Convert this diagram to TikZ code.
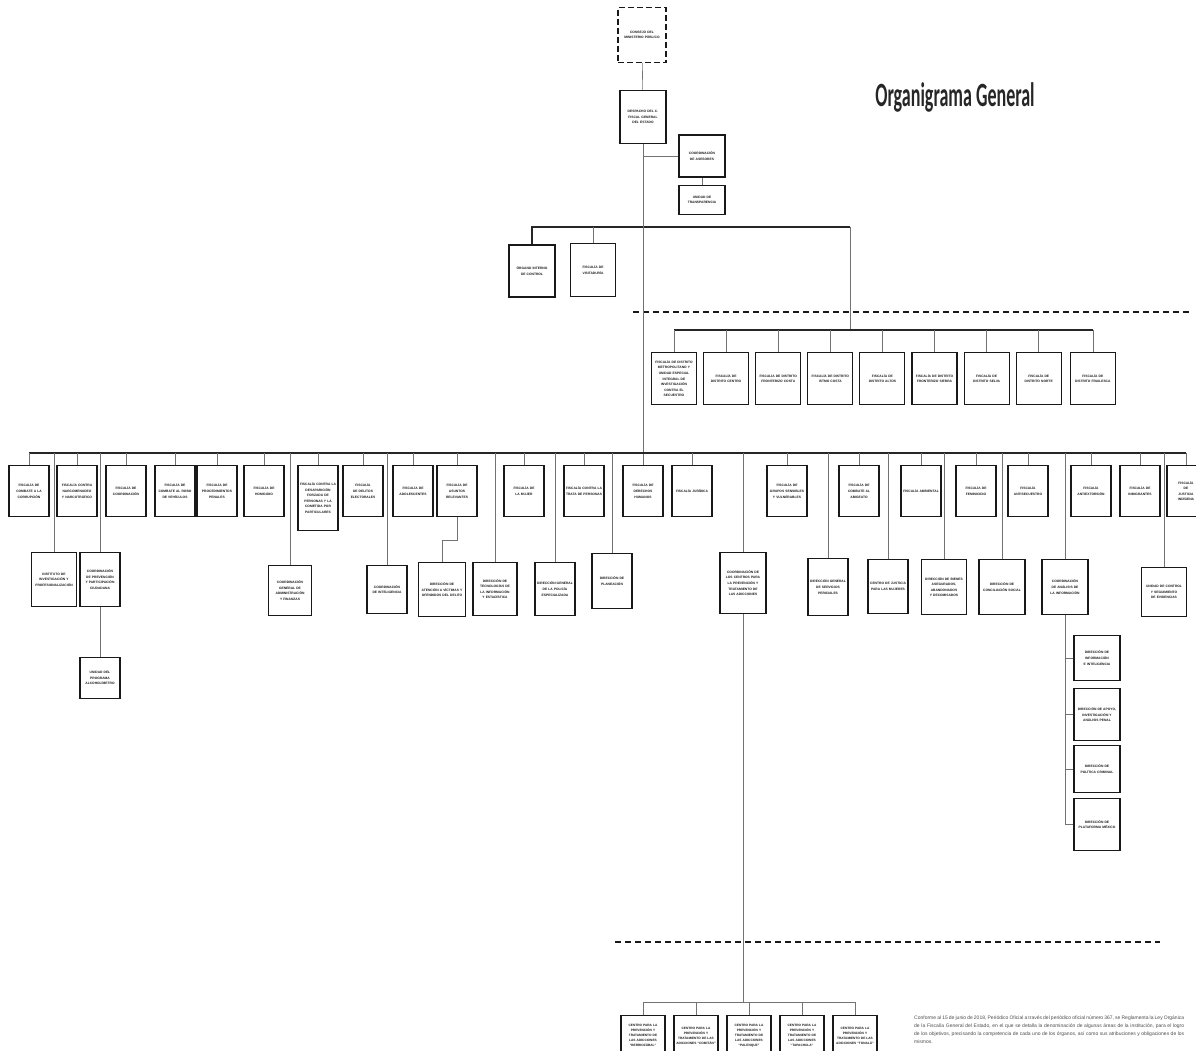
\documentclass[tikz,border=0pt]{standalone}
\usepackage{fontspec}
\setmainfont{Liberation Sans}
\newfontfamily\titlefont{Carlito}
\usepackage{graphicx}
\usetikzlibrary{positioning}
\newcommand\unitfont{\bfseries\fontsize{3.3}{5.6}\selectfont\hyphenpenalty=10000\exhyphenpenalty=10000}
\tikzset{
  unit/.style={draw=black!90,line width=1.1pt,fill=white,minimum width=40pt,
    minimum height=51pt,text width=36pt,align=center,inner sep=1pt,
    font=\unitfont,text=black!90},
  conn/.style={draw=black!55,line width=0.6pt},
  bus/.style={draw=black!85,line width=1.4pt},
}

\begin{document}
\begin{tikzpicture}[x=1pt,y=-1pt,
      consejo/.style={dash pattern=on 6pt off 3pt,line width=1.4pt,minimum width=48pt,
        minimum height=55pt,text width=40pt},
      dist/.style={minimum width=45pt,minimum height=52pt,text width=41pt},
      centro/.style={anchor=north,minimum width=44pt,minimum height=40pt,text width=40pt,
        font=\unitfont\fontsize{3.2}{5}\selectfont},
      cut/.style={draw=black!90,line width=1.1pt,dash pattern=on 6pt off 4pt},
      title/.style={font=\titlefont\bfseries\fontsize{34}{34}\selectfont,text=black!85},
      note/.style={text width=270pt,align=justify,inner sep=0pt,
        font=\fontsize{5}{8}\selectfont,text=black!70}]
      \useasboundingbox (0,0) rectangle (1196,1050);

      \node[title] (ttl) at (955,97) {\scalebox{0.53}[1]{Organigrama General}};

      % despacho
      \node[unit,consejo] (cmp) at (642,35) {CONSEJO DEL MINISTERIO PÚBLICO};
      \node[unit,minimum width=46pt,minimum height=53pt,text width=42pt] (desp) at (643,117)
        {DESPACHO DEL C. FISCAL GENERAL DEL ESTADO};
      \node[unit,minimum width=46pt,minimum height=42pt,text width=42pt] (ases) at (702,156)
        {COORDINACIÓN DE ASESORES};
      \node[unit,minimum width=46pt,minimum height=29pt,text width=42pt] (trans) at (702,200)
        {UNIDAD DE TRANSPARENCIA};
      \node[unit,minimum width=46pt,minimum height=52pt,text width=42pt] (oic) at (532,271)
        {ÓRGANO INTERNO DE CONTROL};
      \node[unit,minimum width=45pt,minimum height=53pt,text width=41pt] (visit) at (593,270)
        {FISCALÍA DE VISITADURÍA};

      \coordinate (topR) at (850,227);
      \coordinate (dbus) at (850,330);
      \coordinate (mbus) at (643,453);

      \draw[conn] (cmp) -- (desp);
      \draw[conn] (ases.west) -- (ases.west -| desp.south);
      \draw[conn] (ases) -- (trans);
      \draw[bus] (oic.north) |- (topR);
      \draw[conn] (visit.north) -- (visit.north |- topR);
      \draw[conn] (topR) -- (dbus);
      \draw[cut] (633,312) -- (1190,312);

      % fiscalias de distrito
      \node[unit,dist,anchor=north] (d1) at (674,352)
        {FISCALÍA DE DISTRITO METROPOLITANO Y UNIDAD ESPECIAL INTEGRAL DE INVESTIGACIÓN CONTRA EL SECUESTRO};
      \node[unit,dist,right=6pt of d1] (d2) {FISCALÍA DE DISTRITO CENTRO};
      \node[unit,dist,right=6pt of d2] (d3) {FISCALÍA DE DISTRITO FRONTERIZO COSTA};
      \node[unit,dist,right=6pt of d3] (d4) {FISCALÍA DE DISTRITO ISTMO COSTA};
      \node[unit,dist,right=6pt of d4] (d5) {FISCALÍA DE DISTRITO ALTOS};
      \node[unit,dist,right=6pt of d5] (d6) {FISCALÍA DE DISTRITO FRONTERIZO SIERRA};
      \node[unit,dist,right=6pt of d6] (d7) {FISCALÍA DE DISTRITO SELVA};
      \node[unit,dist,right=6pt of d7] (d8) {FISCALÍA DE DISTRITO NORTE};
      \node[unit,dist,right=8pt of d8] (d9) {FISCALÍA DE DISTRITO FRAILESCA};

      \draw[bus] (d1.north |- dbus) -- (d9.north |- dbus);
      \draw[conn] (d1.north) -- (d1.north |- dbus) (d2.north) -- (d2.north |- dbus)
        (d3.north) -- (d3.north |- dbus) (d4.north) -- (d4.north |- dbus);
      \draw[conn] (d5.north) -- (d5.north |- dbus) (d6.north) -- (d6.north |- dbus)
        (d7.north) -- (d7.north |- dbus) (d8.north) -- (d8.north |- dbus)
        (d9.north) -- (d9.north |- dbus);

      % fiscalias especializadas
      \node[unit,anchor=north] (f1) at (29,465) {FISCALÍA DE COMBATE A LA CORRUPCIÓN};
      \node[unit,anchor=north] (f2) at (77,465) {FISCALÍA CONTRA NARCOMENUDEO Y NARCOTRÁFICO};
      \node[unit,anchor=north] (f3) at (126,465) {FISCALÍA DE COORDINACIÓN};
      \node[unit,anchor=north] (f4) at (175,465) {FISCALÍA DE COMBATE AL ROBO DE VEHÍCULOS};
      \node[unit,anchor=north] (f5) at (217,465) {FISCALÍA DE PROCEDIMIENTOS PENALES};
      \node[unit,anchor=north] (f6) at (264,465) {FISCALÍA DE HOMICIDIO};
      \node[unit,anchor=north,minimum height=65pt] (f7) at (318,465)
        {FISCALÍA CONTRA LA DESAPARICIÓN FORZADA DE PERSONAS Y LA COMETIDA POR PARTICULARES};
      \node[unit,anchor=north] (f8) at (363,465) {FISCALÍA DE DELITOS ELECTORALES};
      \node[unit,anchor=north] (f9) at (413,465) {FISCALÍA DE ADOLESCENTES};
      \node[unit,anchor=north] (f10) at (457,465) {FISCALÍA DE ASUNTOS RELEVANTES};
      \node[unit,anchor=north] (f11) at (524,465) {FISCALÍA DE LA MUJER};
      \node[unit,anchor=north] (f12) at (584,465) {FISCALÍA CONTRA LA TRATA DE PERSONAS};
      \node[unit,anchor=north] (f13) at (643,465) {FISCALÍA DE DERECHOS HUMANOS};
      \node[unit,anchor=north] (f14) at (692,465) {FISCALÍA JURÍDICA};
      \node[unit,anchor=north] (f15) at (787,465) {FISCALÍA DE GRUPOS SENSIBLES Y VULNERABLES};
      \node[unit,anchor=north] (f16) at (859,465) {FISCALÍA DE COMBATE AL ABIGEATO};
      \node[unit,anchor=north] (f17) at (921,465) {FISCALÍA AMBIENTAL};
      \node[unit,anchor=north] (f18) at (976,465) {FISCALÍA DE FEMINICIDIO};
      \node[unit,anchor=north] (f19) at (1028,465) {FISCALÍA ANTISECUESTRO};
      \node[unit,anchor=north] (f20) at (1091,465) {FISCALÍA ANTIEXTORSIÓN};
      \node[unit,anchor=north] (f21) at (1140,465) {FISCALÍA DE INMIGRANTES};
      \node[unit,anchor=north,minimum width=38pt,text width=19pt] (f22) at (1186,465)
        {FISCALÍA DE JUSTICIA INDÍGENA};

      \draw[conn] (desp.south) -- (f13.north);
      \draw[bus] (f1.north |- mbus) -- (f22.north |- mbus);
      \draw[conn] (f1.north) -- (f1.north |- mbus) (f2.north) -- (f2.north |- mbus)
        (f3.north) -- (f3.north |- mbus) (f4.north) -- (f4.north |- mbus)
        (f5.north) -- (f5.north |- mbus) (f6.north) -- (f6.north |- mbus);
      \draw[conn] (f7.north) -- (f7.north |- mbus) (f8.north) -- (f8.north |- mbus)
        (f9.north) -- (f9.north |- mbus) (f10.north) -- (f10.north |- mbus)
        (f11.north) -- (f11.north |- mbus) (f12.north) -- (f12.north |- mbus);
      \draw[conn] (f14.north) -- (f14.north |- mbus) (f15.north) -- (f15.north |- mbus)
        (f16.north) -- (f16.north |- mbus) (f17.north) -- (f17.north |- mbus)
        (f18.north) -- (f18.north |- mbus) (f19.north) -- (f19.north |- mbus);
      \draw[conn] (f20.north) -- (f20.north |- mbus) (f21.north) -- (f21.north |- mbus)
        (f22.north) -- (f22.north |- mbus);

      % areas de apoyo
      \node[unit,anchor=north,minimum width=45pt,minimum height=54pt,text width=41pt] (s1) at (54,552)
        {INSTITUTO DE INVESTIGACIÓN Y PROFESIONALIZACIÓN};
      \node[unit,anchor=north,minimum height=54pt] (s2) at (100,552)
        {COORDINACIÓN DE PREVENCIÓN Y PARTICIPACIÓN CIUDADANA};
      \node[unit,anchor=north,minimum height=41pt] (s3) at (100,657)
        {UNIDAD DEL PROGRAMA ALCOHOLÍMETRO};
      \node[unit,anchor=north,minimum width=43pt,minimum height=50pt,text width=39pt] (s4) at (290,565)
        {COORDINACIÓN GENERAL DE ADMINISTRACIÓN Y FINANZAS};
      \node[unit,anchor=north,minimum height=48pt] (s5) at (387,565)
        {COORDINACIÓN DE INTELIGENCIA};
      \node[unit,anchor=north,minimum width=47pt,minimum height=54pt,text width=43pt] (s6) at (442,562)
        {DIRECCIÓN DE ATENCIÓN A VÍCTIMAS Y OFENDIDOS DEL DELITO};
      \node[unit,anchor=north,minimum width=44pt,minimum height=53pt,text width=40pt] (s7) at (495,562)
        {DIRECCIÓN DE TECNOLOGÍAS DE LA INFORMACIÓN Y ESTADÍSTICA};
      \node[unit,anchor=north,minimum height=53pt] (s8) at (555,562)
        {DIRECCIÓN GENERAL DE LA POLICÍA ESPECIALIZADA};
      \node[unit,anchor=north,minimum height=55pt] (s9) at (612,553)
        {DIRECCIÓN DE PLANEACIÓN};
      \node[unit,anchor=north,minimum width=46pt,minimum height=61pt,text width=42pt] (s10) at (743,552)
        {COORDINACIÓN DE LOS CENTROS PARA LA PREVENCIÓN Y TRATAMIENTO DE LAS ADICCIONES};
      \node[unit,anchor=north,minimum height=57pt] (s11) at (828,558)
        {DIRECCIÓN GENERAL DE SERVICIOS PERICIALES};
      \node[unit,anchor=north,minimum height=54pt] (s12) at (888,559)
        {CENTRO DE JUSTICIA PARA LAS MUJERES};
      \node[unit,anchor=north,minimum width=45pt,minimum height=55pt,text width=41pt] (s13) at (944,559)
        {DIRECCIÓN DE BIENES ASEGURADOS, ABANDONADOS Y DECOMISADOS};
      \node[unit,anchor=north,minimum width=46pt,minimum height=55pt,text width=42pt] (s14) at (1002,559)
        {DIRECCIÓN DE CONCILIACIÓN SOCIAL};
      \node[unit,anchor=north,minimum width=46pt,minimum height=55pt,text width=42pt] (s15) at (1065,559)
        {COORDINACIÓN DE ANÁLISIS DE LA INFORMACIÓN};
      \node[unit,anchor=north,minimum width=45pt,minimum height=49pt,text width=41pt] (s16) at (1164,567)
        {UNIDAD DE CONTROL Y SEGUIMIENTO DE EVIDENCIAS};

      \draw[conn] (s1.north) -- (s1.north |- mbus) (s2.north) -- (s2.north |- mbus);
      \draw[conn] (s2) -- (s3);
      \draw[conn] (s4.north) -- (s4.north |- mbus) (s5.north) -- (s5.north |- mbus);
      \coordinate (jog) at (457,540);
      \draw[conn] (f10.south) -- (f10.south |- jog) -| (s6.north);
      \draw[conn] (s7.north) -- (s7.north |- mbus) (s8.north) -- (s8.north |- mbus)
        (s9.north) -- (s9.north |- mbus) (s10.north) -- (s10.north |- mbus);
      \draw[conn] (s11.north) -- (s11.north |- mbus) (s12.north) -- (s12.north |- mbus)
        (s13.north) -- (s13.north |- mbus) (s14.north) -- (s14.north |- mbus);
      \draw[conn] (s15.north) -- (s15.north |- mbus) (s16.north) -- (s16.north |- mbus);

      % direcciones de la coordinacion de analisis
      \node[unit,anchor=north,minimum width=46pt,minimum height=45pt,text width=42pt] (t1) at (1097,635)
        {DIRECCIÓN DE INFORMACIÓN E INTELIGENCIA};
      \node[unit,anchor=north,minimum width=46pt,minimum height=52pt,text width=42pt] (t2) at (1097,688)
        {DIRECCIÓN DE APOYO, INVESTIGACIÓN Y ANÁLISIS PENAL};
      \node[unit,anchor=north,minimum width=46pt,minimum height=47pt,text width=42pt] (t3) at (1097,745)
        {DIRECCIÓN DE POLÍTICA CRIMINAL};
      \node[unit,anchor=north,minimum width=46pt,minimum height=52pt,text width=42pt] (t4) at (1097,798)
        {DIRECCIÓN DE PLATAFORMA MÉXICO};

      \draw[conn] (s15.south) |- (t4.west);
      \draw[conn] (t1.west) -- (t1.west -| s15.south) (t2.west) -- (t2.west -| s15.south)
        (t3.west) -- (t3.west -| s15.south);

      % centros
      \draw[cut] (615,942) -- (1160,942);
      \coordinate (bbus) at (743,1002);
      \node[unit,centro] (c1) at (643,1015)
        {CENTRO PARA LA PREVENCIÓN Y TRATAMIENTO DE LAS ADICCIONES ``BERRIOZÁBAL''};
      \node[unit,centro] (c2) at (696,1015)
        {CENTRO PARA LA PREVENCIÓN Y TRATAMIENTO DE LAS ADICCIONES ``COMITÁN''};
      \node[unit,centro] (c3) at (749,1015)
        {CENTRO PARA LA PREVENCIÓN Y TRATAMIENTO DE LAS ADICCIONES ``PALENQUE''};
      \node[unit,centro] (c4) at (802,1015)
        {CENTRO PARA LA PREVENCIÓN Y TRATAMIENTO DE LAS ADICCIONES ``TAPACHULA''};
      \node[unit,centro] (c5) at (855,1015)
        {CENTRO PARA LA PREVENCIÓN Y TRATAMIENTO DE LAS ADICCIONES ``TONALÁ''};

      \draw[conn] (s10.south) -- (bbus);
      \draw[conn] (c1.north |- bbus) -- (c5.north |- bbus);
      \draw[conn] (c1.north) -- (c1.north |- bbus) (c2.north) -- (c2.north |- bbus)
        (c3.north) -- (c3.north |- bbus) (c4.north) -- (c4.north |- bbus)
        (c5.north) -- (c5.north |- bbus);

      \node[note,anchor=north west] (nota) at (914,1016)
        {Conforme al 15 de junio de 2018, Periódico Oficial a través del periódico oficial número 367, se Reglamenta la Ley Orgánica de la Fiscalía General del Estado, en el que se detalla la denominación de algunas áreas de la institución, para el logro de los objetivos, precisando la competencia de cada uno de los órganos, así como sus atribuciones y obligaciones de los mismos.};
\end{tikzpicture}
\end{document}
